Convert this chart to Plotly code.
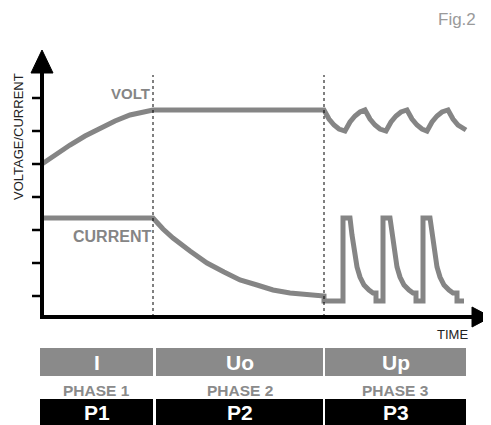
import plotly.graph_objects as go

# ---- data (time units, value units) ----
volt_t = [0, 13, 28, 43, 58, 73, 88, 103, 111, 282, 287, 292, 297, 303, 308, 313, 318, 323,
          328, 333, 338, 344, 349, 354, 359, 365, 370, 375, 380, 385, 390, 395, 400, 406,
          411, 416, 421, 424]
volt_v = [153, 162, 172, 181, 189, 196, 202, 206, 207, 207, 198, 192, 188, 186, 195, 201, 205, 207,
          198, 192, 188, 186, 195, 201, 205, 207, 198, 192, 188, 186, 195, 201, 205, 207,
          198, 192, 188, 187]

current_t = [0, 111, 121, 131, 148, 165, 182, 198, 215, 231, 248, 265, 282,
             282, 301, 301, 308,
             310, 312, 315, 318, 322, 327, 331,
             334, 334, 341, 341, 348,
             350, 352, 355, 358, 362, 367, 371,
             374, 374, 381, 381, 388,
             390, 392, 395, 398, 402, 407, 411,
             415, 415, 422]
current_v = [99, 99, 88, 79, 66, 54, 45, 37, 32, 27, 24, 22, 21,
             16, 16, 99, 99,
             82, 66, 50, 40, 32, 27, 24,
             24, 16, 16, 99, 99,
             82, 66, 50, 40, 32, 27, 24,
             24, 16, 16, 99, 99,
             82, 66, 50, 40, 32, 27, 24,
             24, 16, 16]

tick_values = [21, 54, 87, 120, 153, 186, 219]
phase_bounds = [111, 282]
phase_boxes = [(-2, 111), (114, 281), (283, 424)]
mode_labels = ["I", "Uo", "Up"]
phase_labels = ["PHASE 1", "PHASE 2", "PHASE 3"]
program_labels = ["P1", "P2", "P3"]

LINE = "#858585"
GREY_BOX = "#8a8a8a"
FONT = "Liberation Sans, Arial, sans-serif"

fig = go.Figure()
fig.add_trace(go.Scatter(x=volt_t, y=volt_v, mode="lines",
                         line=dict(color=LINE, width=5), hoverinfo="skip", showlegend=False))
fig.add_trace(go.Scatter(x=current_t, y=current_v, mode="lines",
                         line=dict(color=LINE, width=5), hoverinfo="skip", showlegend=False))

shapes = []
# axes
shapes.append(dict(type="line", x0=0, x1=0, y0=-2, y1=245, line=dict(color="black", width=4)))
shapes.append(dict(type="path", path="M -11 244 L 11 244 L 0 267 Z", fillcolor="black",
                   line=dict(color="black", width=1)))
shapes.append(dict(type="line", x0=-2, x1=431, y0=0, y1=0, line=dict(color="black", width=4)))
shapes.append(dict(type="path", path="M 430 10 L 430 -10 L 449 0 Z", fillcolor="black",
                   line=dict(color="black", width=1)))
for tv in tick_values:
    shapes.append(dict(type="line", x0=-10, x1=0, y0=tv, y1=tv, line=dict(color="black", width=2.5)))
for pb in phase_bounds:
    shapes.append(dict(type="line", x0=pb, x1=pb, y0=0, y1=242,
                       line=dict(color="black", width=1, dash="dot")))
for (a, b) in phase_boxes:
    shapes.append(dict(type="rect", x0=a, x1=b, y0=-59, y1=-31, fillcolor=GREY_BOX,
                       line=dict(width=0), layer="below"))
    shapes.append(dict(type="rect", x0=a, x1=b, y0=-108, y1=-82, fillcolor="black",
                       line=dict(width=0), layer="below"))

ann = []
for (a, b), m, p, q in zip(phase_boxes, mode_labels, phase_labels, program_labels):
    c = (a + b) / 2
    ann.append(dict(x=c, y=-45, text=m, showarrow=False,
                    font=dict(family=FONT, size=21, color="white", weight="bold")))
    ann.append(dict(x=c, y=-73, text=p, showarrow=False,
                    font=dict(family=FONT, size=15.5, color="#8a8a8a", weight="bold")))
    ann.append(dict(x=c, y=-95, text=q, showarrow=False,
                    font=dict(family=FONT, size=21, color="white", weight="bold")))

ann.append(dict(x=88, y=224, text="VOLT", showarrow=False,
                font=dict(family=FONT, size=15, color="#858585", weight="bold")))
ann.append(dict(x=70, y=81, text="CURRENT", showarrow=False,
                font=dict(family=FONT, size=16, color="#858585", weight="bold")))
ann.append(dict(x=410, y=-17, text="TIME", showarrow=False,
                font=dict(family=FONT, size=13, color="#222222")))
ann.append(dict(x=-24, y=180, text="VOLTAGE/CURRENT", showarrow=False, textangle=-90,
                font=dict(family=FONT, size=13, color="#222222")))
ann.append(dict(x=415, xref="x", y=1, yref="paper", yanchor="top", text="Fig.2",
                showarrow=False, font=dict(family=FONT, size=17, color="#9a9a9a")))

# page body has an 8px margin: figure is 483x417 and placed at (8, 8)
fig.update_layout(
    width=483, height=417,
    margin=dict(l=0, r=0, t=0, b=0),
    paper_bgcolor="white", plot_bgcolor="white",
    xaxis=dict(range=[-34, 449], visible=False, fixedrange=True),
    yaxis=dict(range=[-108, 309], visible=False, fixedrange=True),
    shapes=shapes, annotations=ann, showlegend=False,
)

fig.write_html("out.html")
